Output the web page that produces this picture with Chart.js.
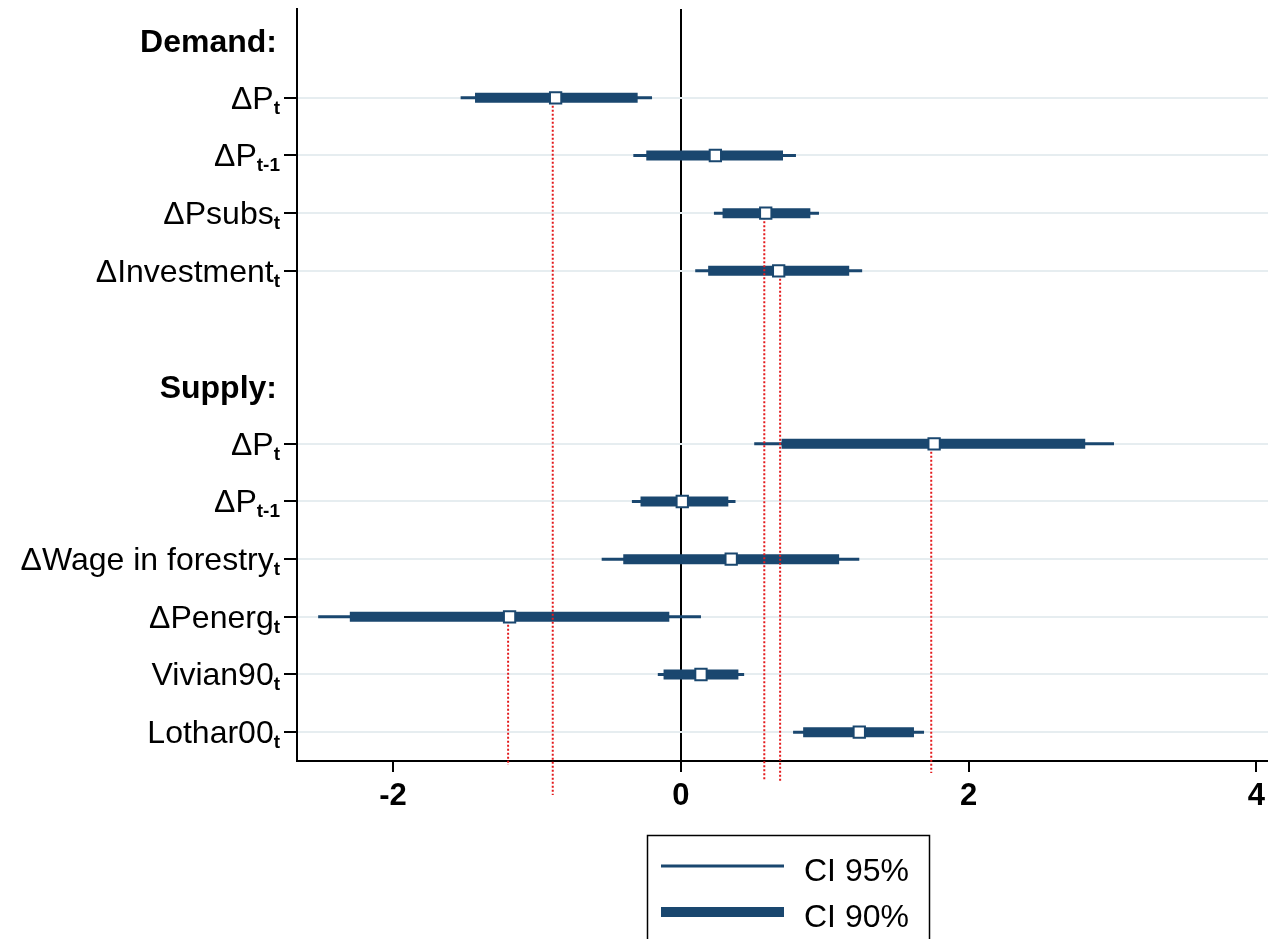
<!DOCTYPE html>
<html>
<head>
<meta charset="utf-8">
<script src="https://cdn.jsdelivr.net/npm/chart.js@4/dist/chart.umd.min.js"></script>
<style>
  html, body { margin: 0; padding: 0; background: #fff; }
  #chart { display: block; }
</style>
</head>
<body>
<canvas id="chart" width="1268" height="939"></canvas>
<script>
// rows, top to bottom (index 0 at top). headers have no estimate
const rowLabels = ['Demand:', 'ΔP', 'ΔP', 'ΔPsubs', 'ΔInvestment', '', 'Supply:',
                   'ΔP', 'ΔP', 'ΔWage in forestry', 'ΔPenerg', 'Vivian90', 'Lothar00'];
const rowSubs = ['', 't', 't-1', 't', 't', '', '', 't', 't-1', 't', 't', 't', 't'];
const headerRows = [0, 6];

// estimates and intervals, one per row in coefRows
const coefRows = [1, 2, 3, 4, 7, 8, 9, 10, 11, 12];
const coef   = [-0.87, 0.24, 0.59, 0.68, 1.76, 0.01, 0.35, -1.19, 0.14, 1.24];
const ci95Lo = [-1.53, -0.33, 0.23, 0.10, 0.51, -0.34, -0.55, -2.52, -0.16, 0.78];
const ci95Hi = [-0.20, 0.80, 0.96, 1.26, 3.01, 0.38, 1.24, 0.14, 0.44, 1.69];
const ci90Lo = [-1.43, -0.24, 0.29, 0.19, 0.70, -0.28, -0.40, -2.30, -0.12, 0.85];
const ci90Hi = [-0.30, 0.71, 0.90, 1.17, 2.81, 0.33, 1.10, -0.08, 0.40, 1.62];

// red dotted drop lines (row they start from, x value, where they stop)
const refRows = [1, 3, 4, 7, 10];
const refX    = [-0.89, 0.58, 0.69, 1.74, -1.20];
const refEnd  = [13.09, 12.83, 12.85, 12.71, 12.57];

const xTicks = [-2, 0, 2, 4];

const navy = '#1a476f';
const FONT = "'Liberation Sans', Arial, sans-serif";

// horizontal segments separated by gaps
function segments(lo, hi) {
  const out = [];
  coefRows.forEach((r, i) => {
    out.push({ x: lo[i], y: r }, { x: hi[i], y: r }, { x: null, y: null });
  });
  return out;
}
const refData = [];
refRows.forEach((r, i) => {
  refData.push({ x: refX[i], y: r }, { x: refX[i], y: refEnd[i] }, { x: null, y: null });
});

const rowLabelPlugin = {
  id: 'rowLabels',
  afterDraw(chart) {
    const ctx = chart.ctx;
    const ys = chart.scales.y;
    ctx.save();
    ctx.fillStyle = '#000';
    ctx.textBaseline = 'alphabetic';
    ctx.textAlign = 'right';
    rowLabels.forEach((lab, i) => {
      if (!lab) return;
      const py = ys.getPixelForValue(i);
      if (headerRows.includes(i)) {
        ctx.font = 'bold 32px ' + FONT;
        ctx.fillText(lab, 277, py + 12);
        return;
      }
      ctx.font = 'bold 19px ' + FONT;
      const sw = ctx.measureText(rowSubs[i]).width;
      ctx.fillText(rowSubs[i], 280, py + 16);
      ctx.font = '32px ' + FONT;
      ctx.fillText(lab, 280 - sw, py + 11);
    });
    ctx.restore();
  }
};

const legendPlugin = {
  id: 'boxLegend',
  afterDraw(chart) {
    const ctx = chart.ctx;
    ctx.save();
    ctx.strokeStyle = '#000';
    ctx.lineWidth = 1.5;
    ctx.strokeRect(647.5, 835.5, 282, 120);
    const items = [chart.data.datasets[3], chart.data.datasets[2]];
    items.forEach((ds, k) => {
      const ly = 866 + k * 46;
      ctx.strokeStyle = ds.borderColor;
      ctx.lineWidth = ds.borderWidth;
      ctx.beginPath();
      ctx.moveTo(661, ly);
      ctx.lineTo(784, ly);
      ctx.stroke();
      ctx.fillStyle = '#000';
      ctx.font = '32px ' + FONT;
      ctx.textAlign = 'left';
      ctx.fillText(ds.label, 804, ly + 15);
    });
    ctx.restore();
  }
};

new Chart(document.getElementById('chart'), {
  type: 'scatter',
  data: {
    datasets: [
      {
        label: 'Estimate',
        data: coefRows.map((r, i) => ({ x: coef[i], y: r })),
        pointStyle: 'rect',
        pointRadius: 8,
        pointBorderWidth: 2,
        pointBackgroundColor: '#fff',
        pointBorderColor: navy,
        showLine: false
      },
      {
        label: 'ref',
        data: refData,
        showLine: true,
        borderColor: '#e31a1c',
        borderWidth: 2,
        borderDash: [2, 2],
        pointRadius: 0,
        clip: false
      },
      {
        label: 'CI 90%',
        data: segments(ci90Lo, ci90Hi),
        showLine: true,
        borderColor: navy,
        borderWidth: 10,
        pointRadius: 0
      },
      {
        label: 'CI 95%',
        data: segments(ci95Lo, ci95Hi),
        showLine: true,
        borderColor: navy,
        borderWidth: 3,
        pointRadius: 0
      }
    ]
  },
  options: {
    responsive: false,
    animation: false,
    layout: { autoPadding: false, padding: { top: 9, left: 0, right: 0, bottom: 0 } },
    plugins: {
      legend: { display: false },
      tooltip: { enabled: false }
    },
    scales: {
      x: {
        type: 'linear',
        min: -2.667,
        max: 4.08,
        afterBuildTicks: s => { s.ticks = xTicks.map(v => ({ value: v })); },
        afterFit: s => { s.height = 178; s.paddingLeft = 0; s.paddingRight = 0; },
        border: { color: '#000', width: 2 },
        grid: {
          color: c => (c.tick && c.tick.value === 0 ? '#000' : 'rgba(0,0,0,0)'),
          lineWidth: 2,
          tickColor: '#000',
          tickWidth: 2,
          tickLength: 11
        },
        ticks: {
          color: '#000',
          padding: 6,
          font: { family: FONT, size: 31, weight: 'bold' }
        }
      },
      y: {
        type: 'linear',
        reverse: true,
        min: -0.54,
        max: 12.5,
        afterBuildTicks: s => { s.ticks = coefRows.map(v => ({ value: v })); },
        afterFit: s => { s.width = 297; s.paddingTop = 0; s.paddingBottom = 0; },
        border: { color: '#000', width: 2 },
        grid: {
          color: '#e6edf0',
          lineWidth: 2,
          tickColor: '#000',
          tickWidth: 2,
          tickLength: 13
        },
        ticks: { display: false }
      }
    }
  },
  plugins: [rowLabelPlugin, legendPlugin]
});
</script>
</body>
</html>
